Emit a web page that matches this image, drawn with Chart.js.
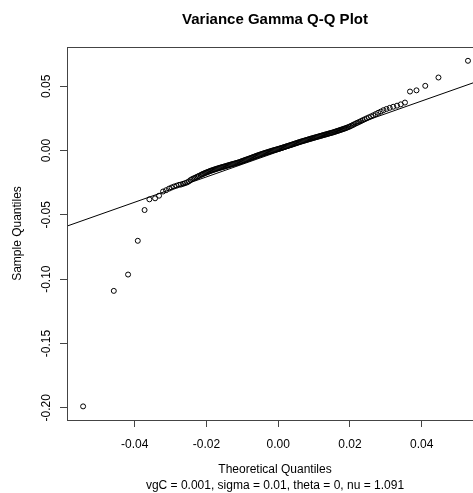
<!DOCTYPE html>
<html><head><meta charset="utf-8">
<script src="https://cdn.jsdelivr.net/npm/chart.js@4"></script>
<style>html,body{margin:0;padding:0;overflow:hidden;background:#fff}#wrap{width:500px;height:493px}</style>
</head><body><div id="wrap"><canvas id="c" width="500" height="493"></canvas></div>
<script>
const chartTitle = 'Variance Gamma Q-Q Plot';
const xAxisTitle = ['Theoretical Quantiles', 'vgC = 0.001, sigma = 0.01, theta = 0, nu = 1.091'];
const yAxisTitle = 'Sample Quantiles';
const xTicks = [-0.04, -0.02, 0, 0.02, 0.04];
const yTicks = [-0.20, -0.15, -0.10, -0.05, 0, 0.05];
const xRange = [-0.0589, 0.0571];
const yRange = [-0.2095, 0.0805];

const theoreticalQ = [
-0.05441,-0.04585,-0.04187,-0.03916,-0.03727,-0.03593,-0.03434,-0.03323,
-0.03211,-0.03127,-0.03044,-0.02974,-0.02905,-0.02835,-0.02765,-0.02710,-0.02654,-0.02598,-0.02542,-0.02492,-0.02445,-0.02403,-0.02361,-0.02319,-0.02283,-0.02247,-0.02213,
-0.0216,-0.0213,-0.0210,-0.0207,-0.0204,-0.0201,-0.0198,-0.0195,-0.0192,-0.0189,-0.0186,-0.0183,-0.0180,-0.0177,-0.0174,-0.0171,-0.0168,-0.0165,-0.0162,-0.0159,-0.0156,-0.0153,-0.0150,-0.0147,-0.0144,-0.0141,-0.0138,-0.0135,-0.0132,-0.0129,-0.0126,-0.0123,-0.0120,-0.0117,-0.0114,-0.0111,-0.0108,-0.0105,-0.0102,-0.0099,-0.0096,-0.0093,-0.0090,-0.0087,-0.0084,-0.0081,-0.0078,-0.0075,-0.0072,-0.0069,-0.0066,-0.0063,-0.0060,-0.0057,-0.0054,-0.0051,-0.0048,-0.0045,-0.0042,-0.0039,-0.0036,-0.0033,-0.0030,-0.0027,-0.0024,-0.0021,-0.0018,-0.0015,-0.0012,-0.0009,-0.0006,-0.0003,0.0000,0.0003,0.0006,0.0009,0.0012,0.0015,0.0018,0.0021,0.0024,0.0027,0.0030,0.0033,0.0036,0.0039,0.0042,0.0045,0.0048,0.0051,0.0054,0.0057,0.0060,0.0063,0.0066,0.0069,0.0072,0.0075,0.0078,0.0081,0.0084,0.0087,0.0090,0.0093,0.0096,0.0099,0.0102,0.0105,0.0108,0.0111,0.0114,0.0117,0.0120,0.0123,0.0126,0.0129,0.0132,0.0135,0.0138,0.0141,0.0144,0.0147,0.0150,0.0153,0.0156,0.0159,0.0162,0.0165,0.0168,0.0171,0.0174,0.0177,0.0180,0.0183,0.0186,
0.01890,0.01926,0.01962,0.02001,0.02040,0.02082,0.02124,0.02169,0.02213,0.02261,0.02308,0.02358,0.02411,0.02467,0.02525,0.02587,0.02651,0.02718,0.02787,0.02860,0.02935,0.03019,0.03108,0.03206,0.03312,0.03417,0.03534,
0.03674,0.03855,0.04100,0.04468,0.05291
];

const sampleQ = [
-0.19891,-0.10911,-0.09642,-0.07017,-0.04626,-0.03793,-0.03715,-0.03512,
-0.03185,-0.03084,-0.02960,-0.02874,-0.02796,-0.02734,-0.02664,-0.02641,-0.02589,-0.02537,-0.02477,-0.02401,-0.02294,-0.02226,-0.02166,-0.02122,-0.02067,-0.02020,-0.01974,
-0.01901,-0.01862,-0.01824,-0.01785,-0.01747,
-0.01714,-0.01681,-0.01647,-0.01614,
-0.01582,-0.01553,-0.01525,-0.01496,-0.01468,
-0.01440,-0.01413,-0.01386,-0.01360,
-0.01333,-0.01310,-0.01286,-0.01263,-0.01239,
-0.01215,-0.01190,-0.01165,-0.01139,-0.01114,
-0.01090,-0.01067,-0.01044,-0.01020,-0.00997,-0.00973,-0.00950,-0.00926,-0.00903,
-0.00868,-0.00833,-0.00808,-0.00773,-0.00748,-0.00712,-0.00687,-0.00652,-0.00627,
-0.00592,-0.00565,-0.00529,-0.00503,-0.00467,-0.00440,-0.00404,
-0.00379,-0.00345,-0.00321,-0.00287,-0.00263,-0.00229,-0.00205,
-0.00180,-0.00154,-0.00128,-0.00102,-0.00075,-0.00049,-0.00023,0.00004,
0.00028,0.00052,0.00076,0.00100,0.00124,0.00148,
0.00173,0.00200,0.00226,0.00253,0.00280,0.00307,0.00334,0.00360,0.00387,
0.00414,0.00442,0.00469,0.00497,0.00525,0.00552,0.00580,0.00608,0.00635,0.00663,
0.00688,0.00714,0.00739,0.00764,0.00789,0.00814,0.00839,0.00864,0.00889,
0.00914,0.00938,0.00962,0.00986,0.01010,0.01033,0.01057,0.01081,0.01105,0.01129,0.01153,0.01177,
0.01201,0.01224,0.01248,0.01271,0.01295,0.01318,0.01342,0.01365,0.01389,
0.01413,0.01440,0.01468,0.01495,0.01523,0.01550,0.01578,
0.01606,0.01634,0.01662,0.01691,0.01719,
0.01752,0.01791,0.01830,0.01877,0.01931,0.01986,0.02048,0.02111,0.02165,0.02227,0.02290,0.02360,0.02430,0.02504,0.02578,0.02656,0.02741,0.02835,0.02936,0.03030,0.03139,0.03232,0.03318,0.03403,0.03489,0.03590,0.03731,
0.04587,0.04681,0.05031,0.05678,0.06978
];

// reference line (qqline) end points
const lineX = [-0.0589, 0.0571];
const lineY = [-0.05875, 0.05534];

const FONT = '"Liberation Sans", Arial, sans-serif';
Chart.defaults.font.family = FONT;
Chart.defaults.color = '#000';

const boxPlugin = {
  id: 'rbox',
  afterDraw(chart) {
    const {ctx, chartArea: a} = chart;
    ctx.save();
    ctx.strokeStyle = '#444';
    ctx.lineWidth = 1;
    ctx.strokeRect(a.left + 0.5, a.top + 0.5, a.right - a.left, a.bottom - a.top);
    ctx.font = 'bold 15px ' + FONT;
    ctx.fillStyle = '#000';
    ctx.textAlign = 'center';
    ctx.textBaseline = 'alphabetic';
    ctx.fillText(chartTitle, (a.left + a.right) / 2, 24);
    ctx.restore();
  }
};

const tickFmt = v => Number(v).toFixed(2);

new Chart(document.getElementById('c'), {
  type: 'scatter',
  data: {
    datasets: [
      {
        data: theoreticalQ.map((x, i) => ({x: x, y: sampleQ[i]})),
        pointStyle: 'circle',
        pointRadius: 2.5,
        pointHoverRadius: 2.5,
        borderWidth: 1,
        borderColor: '#000',
        backgroundColor: 'rgba(0,0,0,0)',
        showLine: false
      },
      {
        data: lineX.map((x, i) => ({x: x, y: lineY[i]})),
        showLine: true,
        pointRadius: 0,
        borderWidth: 1,
        borderColor: '#000',
        backgroundColor: '#000'
      }
    ]
  },
  options: {
    responsive: false,
    devicePixelRatio: 1,
    animation: false,
    layout: {padding: {top: 47, right: 17, left: 0, bottom: 0}},
    plugins: {legend: {display: false}, tooltip: {enabled: false}},
    scales: {
      x: {
        type: 'linear',
        min: xRange[0], max: xRange[1],
        afterBuildTicks: s => { s.ticks = xTicks.map(v => ({value: v})); },
        afterFit: s => { s.height = 73; },
        ticks: {callback: tickFmt, font: {size: 12}, color: '#000', padding: 10, maxRotation: 0, autoSkip: false},
        grid: {display: true, drawOnChartArea: false, drawTicks: true, tickLength: 7, color: '#444', lineWidth: 1},
        border: {display: false},
        title: {display: true, text: xAxisTitle, font: {size: 12, lineHeight: 1.275}, color: '#000', padding: {top: 0, bottom: 0}}
      },
      y: {
        type: 'linear',
        min: yRange[0], max: yRange[1],
        afterBuildTicks: s => { s.ticks = yTicks.map(v => ({value: v})); },
        afterFit: s => { s.width = 67; },
        ticks: {callback: tickFmt, font: {size: 12}, color: '#000', padding: 0, minRotation: 90, maxRotation: 90, crossAlign: 'center', autoSkip: false},
        grid: {display: true, drawOnChartArea: false, drawTicks: true, tickLength: 7, color: '#444', lineWidth: 1},
        border: {display: false},
        title: {display: true, text: yAxisTitle, font: {size: 12, lineHeight: 1.2}, color: '#000', padding: {top: 10, bottom: 0}}
      }
    }
  },
  plugins: [boxPlugin]
});
</script>
</body></html>
